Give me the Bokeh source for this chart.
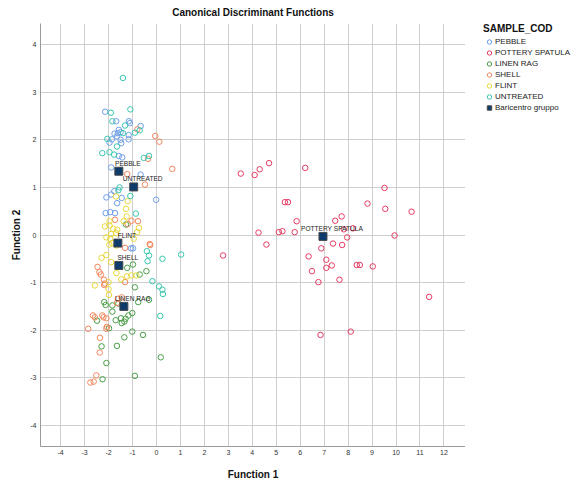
from bokeh.plotting import figure
from bokeh.models import FixedTicker, Legend, LegendItem, Range1d
from bokeh.layouts import row
from bokeh.embed import file_html
from bokeh.resources import INLINE
from bokeh.core.properties import value

FONT = "Liberation Sans"

# ---------------- data ----------------
groups = ["PEBBLE", "POTTERY SPATULA", "LINEN RAG", "SHELL", "FLINT", "UNTREATED"]
colors = ["#6f9fe8", "#e63c64", "#4a9e48", "#f2875e", "#e9d83c", "#38c7b0"]

pebble_x = [-2.14, -1.68, -1.15, -1.11, -0.66, -1.57, -1.75, -1.61, -1.50, -1.16, -1.16, -1.86, -1.96, -1.65, -1.50, -1.47,
            -1.57, -1.43, -1.89, -0.66, -1.76, -1.89, -2.09, -1.45, -1.64, -0.01, -2.12, -1.93, -1.73, -1.06, -0.98]
pebble_y = [2.59, 2.39, 2.39, 2.35, 2.29, 2.21, 2.13, 2.14, 2.16, 2.10, 2.01, 2.01, 1.94, 2.07, 2.00, 1.93,
            1.66, 1.63, 1.42, 1.27, 0.92, 0.85, 0.79, 0.78, 0.67, 0.74, 0.46, 0.48, 0.46, -0.28, -0.28]

pottery_x = [3.52, 4.10, 4.31, 4.70, 6.21, 9.52, 5.36, 5.49, 8.81, 9.55, 10.65, 5.85, 7.46, 7.73, 4.26, 5.11, 5.26, 5.77,
             7.82, 8.20, 7.96, 9.94, 4.59, 2.78, 6.88, 7.37, 7.75, 6.35, 7.09, 7.09, 7.32, 6.49, 8.36, 8.49, 9.03, 6.76,
             7.64, 11.38, 6.85, 8.11]
pottery_y = [1.29, 1.26, 1.38, 1.51, 1.41, 0.99, 0.69, 0.69, 0.66, 0.55, 0.49, 0.29, 0.30, 0.39, 0.05, 0.06, 0.08, 0.06,
             0.12, 0.14, -0.05, -0.01, -0.20, -0.43, -0.28, -0.18, -0.21, -0.45, -0.52, -0.69, -0.64, -0.76, -0.63, -0.63,
             -0.66, -0.99, -0.94, -1.30, -2.10, -2.03]

linen_x = [-1.27, -1.22, -0.98, -0.70, -0.42, -0.90, -2.18, -2.12, -1.84, -1.59, -0.76, -0.31, -2.48, -1.84, -1.01, -1.48,
           -1.34, -1.29, -1.17, -1.45, -1.70, -1.98, -1.01, -0.56, -1.34, -2.29, -1.65, -2.09, 0.18, -2.25, -0.90]
linen_y = [0.22, -0.69, -0.62, -0.83, -0.76, -1.10, -1.41, -1.47, -1.48, -1.44, -1.41, -1.36, -1.80, -1.61, -1.64, -1.75,
           -1.82, -1.76, -1.69, -1.85, -1.79, -1.96, -2.03, -2.10, -2.15, -2.34, -2.33, -2.69, -2.57, -3.03, -2.96]

shell_x = [-0.80, -0.05, 0.12, -0.35, 0.66, -1.22, -0.48, -1.73, -1.04, -0.77, -1.20, -0.28, -1.31, -0.26, -2.46, -2.38,
           -2.32, -2.19, -2.15, -2.18, -1.31, -1.65, -1.61, -1.45, -2.65, -2.57, -2.26, -2.21, -2.09, -2.85, -2.07, -2.09,
           -2.36, -2.37, -2.51, -2.76, -2.62]
shell_y = [2.22, 2.08, 1.96, 1.60, 1.39, 1.28, 1.06, 0.32, 0.30, 0.29, 0.23, -0.19, -0.27, -0.21, -0.67, -0.78,
           -0.83, -0.94, -1.02, -1.05, -0.99, -1.43, -1.34, -1.31, -1.69, -1.73, -1.69, -1.73, -1.75, -1.97, -1.93, -1.97,
           -2.16, -2.47, -2.95, -3.10, -3.08]

flint_x = [-1.69, -1.20, -1.27, -1.24, -1.96, -1.37, -2.15, -1.96, -1.80, -1.64, -0.73, -0.81, -1.89, -1.68, -2.09, -1.93,
           -0.95, -1.97, -1.85, -1.67, -2.29, -2.09, -1.89, -1.67, -1.23, -1.05, -0.84, -2.57, -2.00, -1.47, -2.00, -1.98]
flint_y = [0.81, 0.71, 0.55, 0.39, 0.29, 0.29, 0.18, 0.20, 0.13, 0.11, 0.15, 0.06, 0.02, 0.04, -0.05, -0.08,
           -0.08, -0.20, -0.17, -0.22, -0.48, -0.42, -0.57, -0.80, -0.87, -0.85, -0.85, -1.06, -0.99, -0.93, -1.14, -1.26]

untreated_x = [-1.40, -1.90, -1.09, -1.84, -0.70, -0.90, -1.31, -1.40, -2.05, -1.65, -2.26, -1.96, -1.77, -0.53, -0.31,
               -1.54, -1.59, -1.09, -0.86, -0.40, -0.31, 0.25, 1.03, -0.37, -0.17, 0.11, 0.25, 0.27, 0.16]
untreated_y = [3.30, 2.57, 2.64, 2.39, 2.20, 2.15, 2.30, 2.14, 2.02, 1.86, 1.72, 1.74, 1.69, 1.62, 1.66,
               1.00, 0.94, 0.82, 0.45, -0.34, -0.43, -0.50, -0.41, -0.55, -0.97, -1.08, -1.15, -1.24, -1.70]

centroid_labels = ["PEBBLE", "POTTERY SPATULA", "LINEN RAG", "SHELL", "FLINT", "UNTREATED"]
centroid_x = [-1.57, 6.95, -1.36, -1.57, -1.61, -0.95]
centroid_y = [1.34, -0.03, -1.50, -0.64, -0.17, 1.01]

x_ticks = [-4, -3, -2, -1, 0, 1, 2, 3, 4, 5, 6, 7, 8, 9, 10, 11, 12]
x_tick_labels = ["-4", "-3", "-2", "-1", "0", "1", "2", "3", "4", "5", "6", "7", "8", "9", "10", "11", "12"]
y_ticks = [-4, -3, -2, -1, 0, 1, 2, 3, 4]
y_tick_labels = ["-4", "-3", "-2", "-1", "0", "1", "2", "3", "4"]

title_text = "Canonical Discriminant Functions"
legend_title = "SAMPLE_COD"
centroid_legend = "Baricentro gruppo"

series_x = [pebble_x, pottery_x, linen_x, shell_x, flint_x, untreated_x]
series_y = [pebble_y, pottery_y, linen_y, shell_y, flint_y, untreated_y]

CENTROID_FILL = "#0d3b6b"
CENTROID_LINE = "#4a4a4a"

# ---------------- main figure ----------------
p = figure(width=465, height=486, x_range=(-4.84, 12.90), y_range=(-4.444, 4.444),
           output_backend="svg", toolbar_location=None,
           min_border_left=40, min_border_right=0, min_border_top=22, min_border_bottom=40)
p.outline_line_color = None
p.background_fill_color = "white"
p.border_fill_color = "white"

p.title.text = title_text
p.title.align = "center"
p.title.vertical_align = "middle"
p.title.offset = 2.5
p.title.standoff = 10
p.title.text_font = FONT
p.title.text_font_size = "10px"
p.title.text_font_style = "bold"
p.title.text_color = "#111111"

for g in (p.xgrid, p.ygrid):
    g.grid_line_color = "#cfcfcf"
    g.grid_line_width = 1
p.xgrid.ticker = FixedTicker(ticks=x_ticks)
p.ygrid.ticker = FixedTicker(ticks=y_ticks)

p.xaxis.ticker = FixedTicker(ticks=x_ticks)
p.yaxis.ticker = FixedTicker(ticks=y_ticks)
p.xaxis.major_label_overrides = {t: l for t, l in zip(x_ticks, x_tick_labels)}
p.yaxis.major_label_overrides = {t: l for t, l in zip(y_ticks, y_tick_labels)}

for ax in (p.xaxis[0], p.yaxis[0]):
    ax.axis_line_color = "#9a9a9a"
    ax.major_tick_out = 0
    ax.major_tick_in = 0
    ax.minor_tick_out = 0
    ax.minor_tick_in = 0
    ax.major_label_text_font = FONT
    ax.major_label_text_font_size = "7px"
    ax.major_label_text_color = "#333333"
    ax.major_label_standoff = 3
    ax.axis_label_text_font = FONT
    ax.axis_label_text_font_size = "10px"
    ax.axis_label_text_font_style = "bold"
    ax.axis_label_text_color = "#111111"

p.xaxis.axis_label = "Function 1"
p.yaxis.axis_label = "Function 2"
p.xaxis.axis_label_standoff = 11
p.yaxis.axis_label_standoff = 5
p.yaxis.major_label_standoff = 4

for name, c, xs, ys in zip(groups, colors, series_x, series_y):
    p.scatter(xs, ys, marker="circle", size=5.5, fill_color=None, line_color=c, line_width=1)

p.scatter(centroid_x, centroid_y, marker="square", size=8, fill_color=CENTROID_FILL,
          line_color=CENTROID_LINE, line_width=1)

p.text(x=centroid_x, y=centroid_y, text=centroid_labels, x_offset=9, y_offset=-8,
       text_align="center", text_baseline="middle", text_font=value(FONT),
       text_font_size="6.6px", text_color="#222222")

# ---------------- legend panel (separate figure on the right) ----------------
# Its view range is set far away from the data, so the same series feed the
# legend swatches without being drawn a second time.
lf = figure(width=111, height=486, x_axis_type=None, y_axis_type=None,
            x_range=Range1d(1000, 1001), y_range=Range1d(1000, 1001),
            output_backend="svg", toolbar_location=None, title=None,
            min_border_left=18, min_border_right=0, min_border_top=22, min_border_bottom=40)
lf.outline_line_color = None
lf.grid.visible = False
lf.background_fill_color = "white"
lf.border_fill_color = "white"

items = []
for name, c, xs, ys in zip(groups, colors, series_x, series_y):
    r = lf.scatter(xs, ys, marker="circle", fill_color=None, line_color=c, line_width=1)
    items.append(LegendItem(label=name, renderers=[r]))
rc = lf.scatter(centroid_x, centroid_y, marker="square", fill_color=CENTROID_FILL,
                line_color=CENTROID_LINE, line_width=1)
items.append(LegendItem(label=centroid_legend, renderers=[rc]))

legend = Legend(items=items, location="top_left", glyph_width=12, glyph_height=11, label_height=11,
                spacing=0, padding=0, margin=0, label_standoff=0,
                title=legend_title, title_text_font=FONT, title_text_font_size="10px",
                title_text_font_style="bold", title_text_color="#111111", title_standoff=2,
                label_text_font=FONT, label_text_font_size="8px", label_text_color="#222222",
                background_fill_alpha=0, border_line_color=None)
lf.add_layout(legend, "center")

layout = row(p, lf, spacing=0)
open("out.html", "w").write(file_html(layout, INLINE))
